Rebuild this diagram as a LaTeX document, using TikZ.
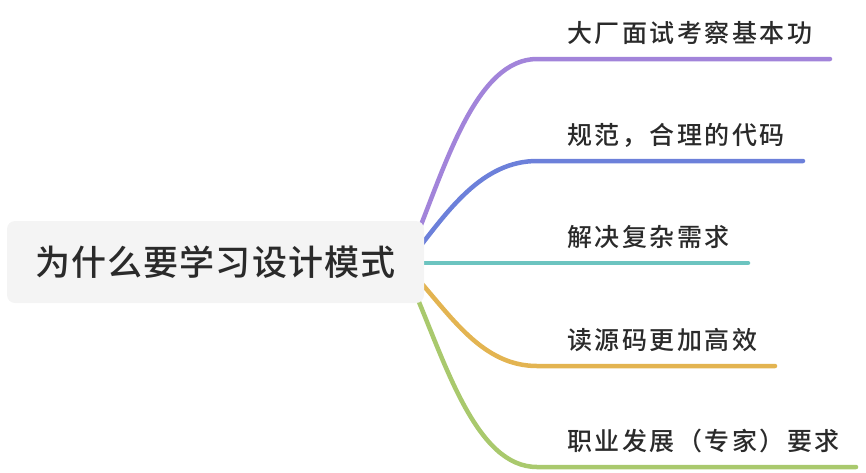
\documentclass[tikz,border=0pt]{standalone}
\usepackage{fontspec}
\setmainfont{Noto Sans CJK SC}[UprightFont=* Medium, LetterSpace=10]
\newfontfamily\rootfont{Noto Sans CJK SC}[UprightFont=* Medium, LetterSpace=3]
\usetikzlibrary{backgrounds}

\definecolor{rootgray}{HTML}{F4F4F4}
\definecolor{textdark}{HTML}{2A2A2A}
\definecolor{mmpurple}{HTML}{A284DA}
\definecolor{mmblue}{HTML}{6C80DA}
\definecolor{mmteal}{HTML}{6CC4C0}
\definecolor{mmgold}{HTML}{E3B451}
\definecolor{mmgreen}{HTML}{A9C96D}

\begin{document}
\begin{tikzpicture}[
    x=1pt, y=1pt,
    root/.style={rectangle, rounded corners=8pt, fill=rootgray, minimum width=417pt, minimum height=82pt,
        text height=29pt, text depth=2pt, font=\rootfont\fontsize{35}{40}\selectfont, text=textdark},
    leaf/.style={anchor=base west, inner sep=0pt, font=\fontsize{25}{30}\selectfont, text=textdark},
    branch/.style={line width=4.5pt, line cap=round}
]
\useasboundingbox (0,0) rectangle (866,-472);

% Root
\node[root] (root) at (215.5,-262) {为什么要学习设计模式};

% Leaves
\node[leaf] (l1) at (567,-42) {大厂面试考察基本功};
\node[leaf] (l2) at (567,-144) {规范，合理的代码};
\node[leaf] (l3) at (567,-246) {解决复杂需求};
\node[leaf] (l4) at (567,-349) {读源码更加高效};
\node[leaf] (l5) at (567,-450) {职业发展（专家）要求};

% Line ends
\coordinate (b1) at (537,-59);   \coordinate (e1) at (830,-59);
\coordinate (b2) at (537,-161);  \coordinate (e2) at (803,-161);
\coordinate (e3) at (748,-263);
\coordinate (b4) at (537,-366);  \coordinate (e4) at (775,-366);
\coordinate (b5) at (537,-467);  \coordinate (e5) at (856,-467);

% Branches
\begin{scope}[on background layer]
\draw[branch, mmpurple] ([xshift=-8pt,yshift=25pt]root.east) .. controls +(68:80) and +(-60,0) .. (b1) -- (e1);
\draw[branch, mmblue] ([xshift=-10pt,yshift=8pt]root.east) .. controls +(52:55) and +(-55,0) .. (b2) -- (e2);
\draw[branch, mmteal] ([xshift=-10pt,yshift=-1pt]root.east) -- (e3);
\draw[branch, mmgold] ([xshift=-10pt,yshift=-13pt]root.east) .. controls +(-48:55) and +(-55,0) .. (b4) -- (e4);
\draw[branch, mmgreen] ([xshift=-9pt,yshift=-31pt]root.east) .. controls +(-67:80) and +(-60,0) .. (b5) -- (e5);
\end{scope}

\end{tikzpicture}
\end{document}
